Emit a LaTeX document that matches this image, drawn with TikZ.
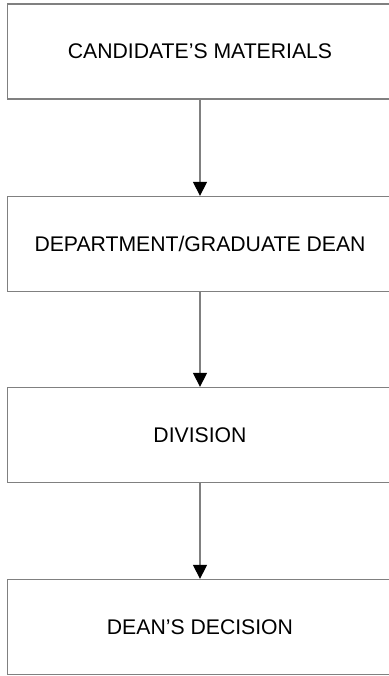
\documentclass[tikz,border=0pt]{standalone}
\usepackage{fontspec}
\setmainfont{Liberation Sans}
\usetikzlibrary{arrows.meta}
\definecolor{linegray}{RGB}{128,128,128}
\begin{document}
\begin{tikzpicture}[x=1pt,y=-1pt,
  box/.style={draw=linegray, line width=1.3pt, rectangle, minimum width=385pt, minimum height=95pt, inner sep=0pt, font=\fontsize{21.2}{25}\selectfont, text=black},
  conn/.style={draw=linegray, line width=1.3pt, -{Triangle[length=14pt,width=14pt,color=black]}}]
\useasboundingbox (0,0) rectangle (388,676);
\node[box] (a) at (200,51.5) {CANDIDATE’S MATERIALS};
\node[box] (b) at (200,244) {DEPARTMENT/GRADUATE DEAN};
\node[box] (c) at (200,435) {DIVISION};
\node[box] (d) at (200,627) {DEAN’S DECISION};
\draw[conn] (a) -- (b);
\draw[conn] (b) -- (c);
\draw[conn] (c) -- (d);
\end{tikzpicture}
\end{document}
